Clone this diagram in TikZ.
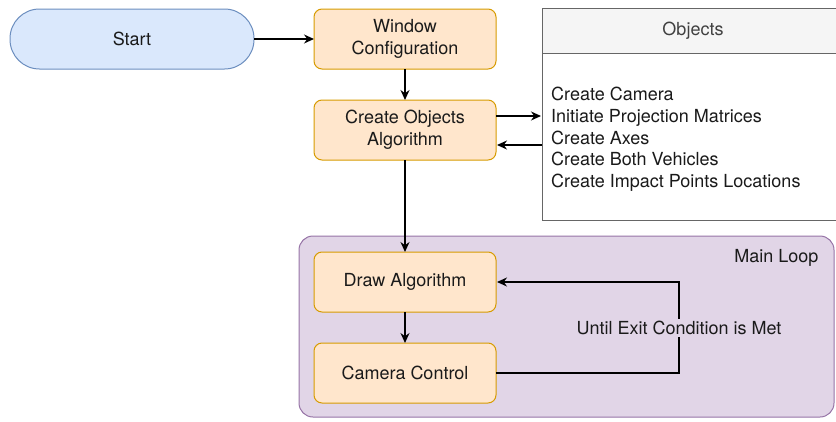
\documentclass[tikz,border=0pt]{standalone}
\usepackage{fontspec}
\setmainfont{TeX Gyre Heros}
\usetikzlibrary{arrows.meta}
\definecolor{bfill}{HTML}{DAE8FC}
\definecolor{bdraw}{HTML}{6C8EBF}
\definecolor{ofill}{HTML}{FFE6CC}
\definecolor{odraw}{HTML}{D79B00}
\definecolor{pfill}{HTML}{E1D5E7}
\definecolor{pdraw}{HTML}{9673A6}
\definecolor{gfill}{HTML}{F5F5F5}
\definecolor{gdraw}{HTML}{666666}
\definecolor{txt}{HTML}{1A1A1A}
\begin{document}
\begin{tikzpicture}[x=1pt,y=-1pt,
  font=\fontsize{18}{22}\selectfont, text=txt,
  obox/.style={draw=odraw, fill=ofill, line width=1pt, rounded corners=8pt},
  arr/.style={-{Stealth[length=10pt,width=9pt]}, line width=1.3pt, black}]
\useasboundingbox (0,0) rectangle (836,421);
% main loop container
\draw[draw=pdraw, fill=pfill, line width=1pt, rounded corners=14pt] (299,236) rectangle (834,417);
\node[anchor=east] (mlt) at (822,258) {Main Loop};
% Start
\draw[draw=bdraw, fill=bfill, line width=1pt, rounded corners=29.5pt] (10,9) rectangle (254,69);
\node (start) at (132,39) {Start};
\coordinate (startE) at (254,39);
% boxes
\draw[obox] (314,9) rectangle (496,69);
\node[align=center] (win) at (405,39) {Window\\Configuration};
\draw[obox] (314,100) rectangle (496,160);
\node[align=center] (coa) at (405,130) {Create Objects\\Algorithm};
\draw[obox] (314,252) rectangle (496,312);
\node (draw) at (405,282) {Draw Algorithm};
\draw[obox] (314,343) rectangle (496,403);
\node (cam) at (405,373) {Camera Control};
% objects box
\draw[draw=gdraw, fill=white, line width=1pt] (542,8) rectangle (840,220);
\draw[draw=gdraw, fill=gfill, line width=1pt] (542,8) rectangle (840,53);
\node[text=black!75] (objt) at (693,31) {Objects};
\node[anchor=north west, align=left, inner sep=0pt, font=\fontsize{18}{21.7}\selectfont] (objs) at (551,87)
 {Create Camera\\Initiate Projection Matrices\\Create Axes\\Create Both Vehicles\\Create Impact Points Locations};
% connectors
\coordinate (wl) at (314,39);
\draw[arr] (startE) -- (wl);
\coordinate (winS) at (405,69);
\coordinate (coaN) at (405,100);
\draw[arr] (winS) -- (coaN);
\coordinate (coaE1) at (496,116);
\coordinate (objW1) at (541,116);
\draw[arr] (coaE1) -- (objW1);
\coordinate (objW2) at (542,145);
\coordinate (coaE2) at (497,145);
\draw[arr] (objW2) -- (coaE2);
\coordinate (coaS) at (405,160);
\coordinate (drawN) at (405,252);
\draw[arr] (coaS) -- (drawN);
\coordinate (drawS) at (405,312);
\coordinate (camN) at (405,343);
\draw[arr] (drawS) -- (camN);
\coordinate (camE) at (496,373);
\coordinate (lp1) at (679,373);
\coordinate (lp2) at (679,282);
\coordinate (drawE) at (497,282);
\draw[arr] (camE) -- (lp1) -- (lp2) -- (drawE);
\node[fill=pfill, inner sep=2pt] (lbl) at (679,328) {Until Exit Condition is Met};
\end{tikzpicture}
\end{document}
